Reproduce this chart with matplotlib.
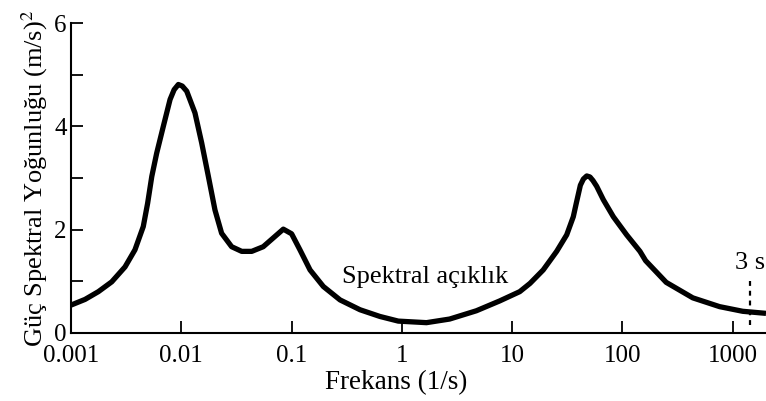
import matplotlib
matplotlib.use("Agg")
import matplotlib.pyplot as plt
from matplotlib.ticker import NullLocator

# values
frequency = [
    0.001, 0.00134, 0.00177, 0.00234, 0.00309, 0.0038, 0.00452, 0.00495,
    0.0054, 0.00598, 0.00687, 0.00791, 0.00861, 0.0094, 0.0102, 0.0112,
    0.0133, 0.0153, 0.0176, 0.0202, 0.0232, 0.0286, 0.0353, 0.0435,
    0.0553, 0.0682, 0.0841, 0.1, 0.119, 0.147, 0.194, 0.275, 0.417,
    0.632, 0.927, 1.67, 2.71, 4.73, 7.69, 11.7, 14.5, 19.1, 25.3, 31.2,
    35.8, 38.0, 41.5, 44.2, 47.4, 50.7, 54.0, 58.3, 67.0, 82.6, 109, 144,
    162, 249, 434, 759, 1230, 2000,
]
psd = [
    0.54, 0.65, 0.80, 0.99, 1.28, 1.61, 2.06, 2.51,
    3.03, 3.48, 4.00, 4.52, 4.71, 4.81, 4.78, 4.68,
    4.26, 3.68, 3.03, 2.38, 1.93, 1.67, 1.58, 1.58,
    1.67, 1.84, 2.01, 1.92, 1.61, 1.22, 0.90, 0.64, 0.45,
    0.32, 0.23, 0.20, 0.27, 0.43, 0.62, 0.80, 0.96, 1.22, 1.58, 1.90,
    2.25, 2.50, 2.86, 2.98, 3.04, 3.02, 2.95, 2.84, 2.58, 2.25, 1.90, 1.58,
    1.40, 0.98, 0.68, 0.51, 0.42, 0.38,
]

x_ticks = [0.001, 0.01, 0.1, 1, 10, 100, 1000]
x_tick_labels = ["0.001", "0.01", "0.1", "1", "10", "100", "1000"]
y_ticks = [0, 1, 2, 3, 4, 5, 6]
y_tick_labels = ["0", "", "2", "", "4", "", "6"]

gap_label = "Spektral açıklık"
gap_label_pos = (1.62, 1.09)
marker_freq = 1425
marker_range = (0.15, 1.09)
marker_label = "3 s"
marker_label_y = 1.35

plt.rcParams["font.family"] = ["Liberation Serif", "DejaVu Serif"]
plt.rcParams["mathtext.fontset"] = "stix"

fig = plt.figure(figsize=(7.66, 4.01), dpi=100)
ax = fig.add_axes([0.0927, 0.1696, 0.9073, 0.773])

ax.plot(frequency, psd, color="black", lw=3.8, solid_joinstyle="round",
        solid_capstyle="butt", clip_on=False)

ax.vlines(marker_freq, *marker_range, colors="black", linestyles=(0, (2.2, 2.2)), lw=1.6)
ax.text(marker_freq, marker_label_y, marker_label, ha="center", va="center", fontsize=19)
ax.text(*gap_label_pos, gap_label, ha="center", va="center", fontsize=19)

ax.set_xscale("log")
ax.set_xlim(0.001, 2000)
ax.set_ylim(0, 6)
ax.set_xticks(x_ticks)
ax.set_xticklabels(x_tick_labels)
ax.xaxis.set_minor_locator(NullLocator())
ax.set_yticks(y_ticks)
ax.set_yticklabels(y_tick_labels)

ax.tick_params(direction="in", length=8.5, width=1.3, labelsize=18)
ax.tick_params(axis="x", pad=9)
ax.tick_params(axis="y", pad=3)

for side in ("top", "right"):
    ax.spines[side].set_visible(False)
for side in ("left", "bottom"):
    ax.spines[side].set_linewidth(1.5)

ax.set_xlabel("Frekans (1/s)", fontsize=19.5, labelpad=2, x=0.468)
ax.set_ylabel("Güç Spektral Yoğunluğu (m/s)$^2$", fontsize=19, labelpad=3)

fig.savefig("out.png", dpi=100)
